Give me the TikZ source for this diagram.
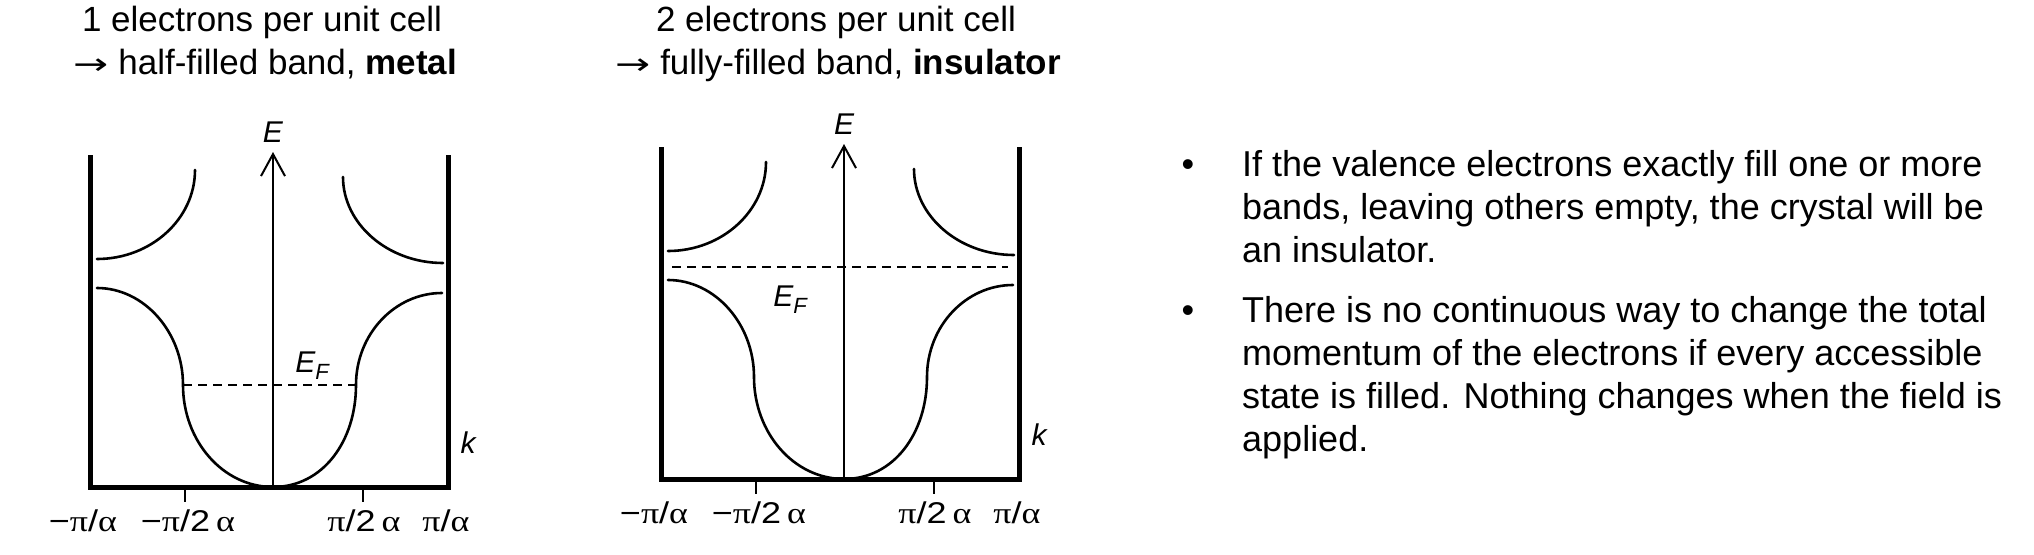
\documentclass[tikz,border=0pt]{standalone}
\usepackage{fontspec}
\setmainfont{Liberation Sans}
\newfontfamily\grk{Liberation Serif}
\newfontfamily\arr{DejaVu Sans}
\usetikzlibrary{arrows.meta}
\tikzset{
  wall/.style={line width=5pt, line join=miter, line cap=butt},
  band/.style={line width=2.6pt, line cap=round},
  axisline/.style={line width=2pt, -{Straight Barb[length=22pt,width=24pt,line width=2pt]}},
  tickline/.style={line width=2pt},
  fermi/.style={line width=2.2pt, dash pattern=on 9pt off 6pt},
  title/.style={font=\fontsize{35}{42}\selectfont, anchor=base, inner sep=0pt},
  body/.style={font=\fontsize{36}{43}\selectfont, anchor=base west, inner sep=0pt},
  axlab/.style={font=\fontsize{30}{30}\selectfont\itshape, inner sep=0pt},
  ticklab/.style={font=\fontsize{30}{30}\selectfont, inner sep=0pt},
}
\newcommand\tl[1]{\scalebox{1.2}[1]{#1}}
\newcommand\tarrow{\scalebox{1.2}[0.85]{\arr →}\hspace{10pt}}
\newcommand\bandpic[1]{%
  \coordinate (#1tl) at (90,155); \coordinate (#1bl) at (90,487);
  \coordinate (#1br) at (448,487); \coordinate (#1tr) at (448,155);
  \draw[wall] (#1tl) -- (#1bl) -- (#1br) -- (#1tr);
  \coordinate (#1o) at (273,487); \coordinate (#1top) at (273,152);
  \draw[axisline] (#1o) -- (#1top);
  \node[axlab] (#1E) at (273,132) {E};
  \node[axlab] (#1k) at (468,443) {k};
  % upper band
  \draw[band] (97,259) .. controls (151,259) and (195,219) .. (195,170);
  \draw[band] (343,177) .. controls (343,224) and (388,263) .. (443,263);
  % lower band
  \draw[band] (97,288) .. controls (144,288) and (183,332) .. (183,385)
              .. controls (183,441) and (223,487) .. (#1o)
              .. controls (323,487) and (356,441) .. (356,385)
              .. controls (356,334) and (395,293) .. (442,293);
  % ticks
  \coordinate (#1ta) at (185,487); \coordinate (#1tb) at (363,487);
  \draw[tickline] (#1ta) -- ++(0,15);
  \draw[tickline] (#1tb) -- ++(0,15);
  \node[ticklab] (#1la) at (83,521) {\tl{−{\grk π}/{\grk α}}};
  \node[ticklab] (#1lb) at (188,521) {\tl{−{\grk π}/2\,{\grk α}}};
  \node[ticklab] (#1lc) at (364,521) {\tl{{\grk π}/2\,{\grk α}}};
  \node[ticklab] (#1ld) at (446,521) {\tl{{\grk π}/{\grk α}}};
}
\begin{document}
\begin{tikzpicture}[x=1pt,y=-1pt]
  \useasboundingbox[fill=white] (0,0) rectangle (2034,554);
  % titles
  \node[title] (t1a) at (262,31) {1 electrons per unit cell};
  \node[title] (t1b) at (265,74) {\tarrow half-filled band, \textbf{metal}};
  \node[title] (t2a) at (836,31) {2 electrons per unit cell};
  \node[title] (t2b) at (838,74) {\tarrow fully-filled band, \textbf{insulator}};
  % left diagram
  \bandpic{L}
  \coordinate (Lfa) at (183,385); \coordinate (Lfb) at (356,385);
  \draw[fermi] (Lfa) -- (Lfb);
  \node[axlab] (LEF) at (312,366) {E\raisebox{-7pt}{\fontsize{22}{22}\selectfont F}};
  % right diagram
  \begin{scope}[shift={(571,-8)}]
    \bandpic{R}
  \end{scope}
  \coordinate (Rfa) at (672,267); \coordinate (Rfb) at (1008,267);
  \draw[fermi] (Rfa) -- (Rfb);
  \node[axlab] (REF) at (790,300) {E\raisebox{-7pt}{\fontsize{22}{22}\selectfont F}};
  % bullet text
  \node[body, anchor=base] (bu1) at (1188,176) {•};
  \node[body] (p1a) at (1242,176) {If the valence electrons exactly fill one or more};
  \node[body] (p1b) at (1242,219) {bands, leaving others empty, the crystal will be};
  \node[body] (p1c) at (1242,262) {an insulator.};
  \node[body, anchor=base] (bu2) at (1188,322) {•};
  \node[body] (p2a) at (1242,322) {There is no continuous way to change the total};
  \node[body] (p2b) at (1242,365) {momentum of the electrons if every accessible};
  \node[body] (p2c) at (1242,408) {state is filled. Nothing changes when the field is};
  \node[body] (p2d) at (1242,451) {applied.};
\end{tikzpicture}
\end{document}
